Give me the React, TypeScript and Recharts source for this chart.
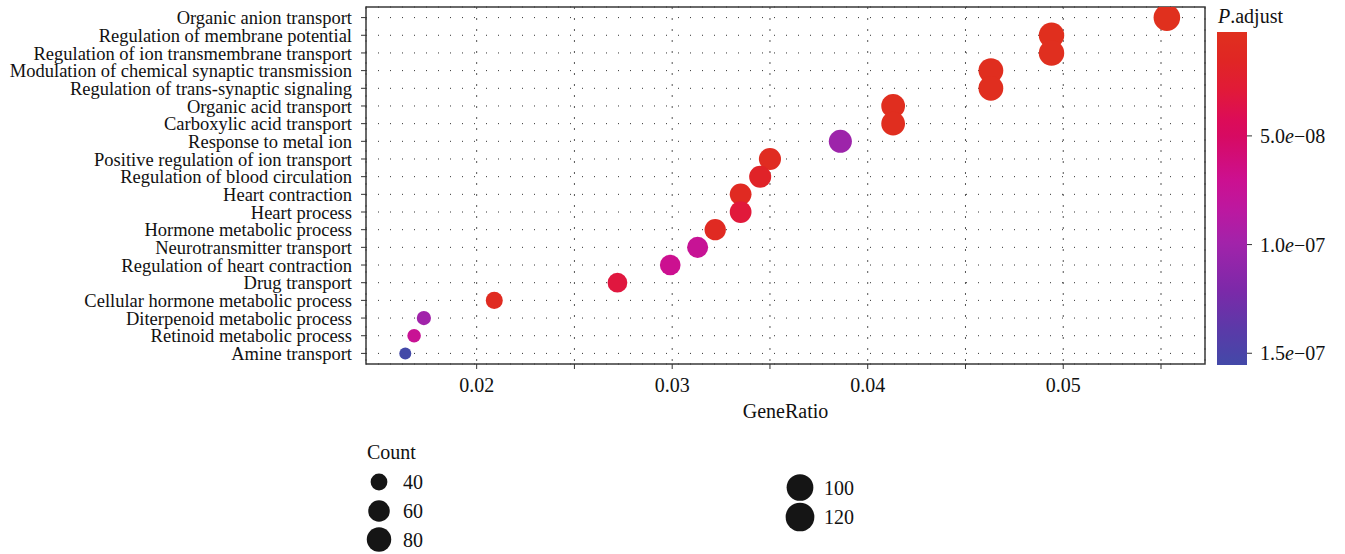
import React from "react";
import {
  ScatterChart,
  Scatter,
  XAxis,
  YAxis,
  CartesianGrid,
  ReferenceArea,
} from "recharts";

// GO terms, top to bottom
const terms = [
  "Organic anion transport",
  "Regulation of membrane potential",
  "Regulation of ion transmembrane transport",
  "Modulation of chemical synaptic transmission",
  "Regulation of trans-synaptic signaling",
  "Organic acid transport",
  "Carboxylic acid transport",
  "Response to metal ion",
  "Positive regulation of ion transport",
  "Regulation of blood circulation",
  "Heart contraction",
  "Heart process",
  "Hormone metabolic process",
  "Neurotransmitter transport",
  "Regulation of heart contraction",
  "Drug transport",
  "Cellular hormone metabolic process",
  "Diterpenoid metabolic process",
  "Retinoid metabolic process",
  "Amine transport",
];
const geneRatio = [
  0.0553, 0.0494, 0.0494, 0.0463, 0.0463, 0.0413, 0.0413, 0.0386, 0.035,
  0.0345, 0.0335, 0.0335, 0.0322, 0.0313, 0.0299, 0.0272, 0.0209, 0.0173,
  0.0168, 0.01635,
];
const counts = [
  120, 107, 107, 100, 100, 90, 90, 84, 76, 75, 73, 73, 70, 68, 65, 59, 45, 37,
  36, 35,
];
const padj = [
  2.2e-9, 3.0e-9, 3.5e-9, 4.5e-9, 4.5e-9, 5.0e-9, 5.0e-9, 1.02e-7, 8.0e-9,
  1.8e-8, 1.0e-8, 3.0e-8, 1.0e-8, 7.5e-8, 7.0e-8, 3.2e-8, 9.0e-9, 1.0e-7,
  7.4e-8, 1.554e-7,
];

const xTicks = [0.02, 0.025, 0.03, 0.035, 0.04, 0.045, 0.05, 0.055];
const xTickLabels = ["0.02", "", "0.03", "", "0.04", "", "0.05", ""];
const xDomain: [number, number] = [0.01434, 0.05725];

// colour scale for P.adjust
const padjStops = [
  2.2e-9, 1.51e-8, 2.89e-8, 4.26e-8, 5.0e-8, 7.02e-8, 8.42e-8, 9.93e-8,
  1.209e-7, 1.393e-7, 1.554e-7,
];
const padjColors = [
  "#e0301e", "#e02624", "#e11a38", "#dc0c58", "#d70a62", "#cc1090",
  "#bc18a0", "#a223aa", "#7c29a9", "#5a3aa8", "#4349a8",
];
const padjTicks = [5e-8, 1e-7, 1.5e-7];
const padjTickLabels = ["5.0e\u221208", "1.0e\u221207", "1.5e\u221207"];

const countBreaks = [40, 60, 80, 100, 120];

const FONT = "'Liberation Serif', 'Times New Roman', serif";
const INK = "#111";

const rows = terms.map((term, i) => ({
  term,
  row: i + 1,
  ratio: geneRatio[i],
  count: counts[i],
  padj: padj[i],
}));

const countMin = Math.min(...counts);
const countMax = Math.max(...counts);
function radiusFor(c: number) {
  const t = Math.max(0, (c - countMin) / (countMax - countMin));
  return 6 + 7.3 * Math.sqrt(t);
}

function hex(h: string) {
  return [1, 3, 5].map((k) => parseInt(h.slice(k, k + 2), 16));
}
function colorFor(p: number) {
  if (p <= padjStops[0]) return padjColors[0];
  for (let i = 0; i < padjStops.length - 1; i++) {
    const a = padjStops[i];
    const b = padjStops[i + 1];
    if (p <= b) {
      const t = (p - a) / (b - a);
      const ca = hex(padjColors[i]);
      const cb = hex(padjColors[i + 1]);
      const m = ca.map((v, k) => Math.round(v + (cb[k] - v) * t));
      return `rgb(${m[0]},${m[1]},${m[2]})`;
    }
  }
  return padjColors[padjColors.length - 1];
}

const Dot = (props: any) => {
  const { cx, cy, payload } = props;
  if (cx == null || cy == null) return null;
  return (
    <circle
      cx={cx}
      cy={cy}
      r={radiusFor(payload.count)}
      fill={colorFor(payload.padj)}
    />
  );
};

function Legends() {
  const barX = 1217;
  const barY = 32;
  const barW = 30;
  const barH = 333;
  const pLo = padjStops[0];
  const pHi = padjStops[padjStops.length - 1];
  const yOf = (p: number) => barY + ((p - pLo) / (pHi - pLo)) * barH;

  // size legend, laid out in two columns like the original
  const sizeItems = [
    { x: 379, y: 482 },
    { x: 379, y: 511 },
    { x: 379, y: 539.5 },
    { x: 800, y: 487.5 },
    { x: 800, y: 517 },
  ];

  return (
    <svg
      width={1345}
      height={554}
      style={{ position: "absolute", left: 0, top: 0, pointerEvents: "none" }}
      fontFamily={FONT}
    >
      <defs>
        <linearGradient id="padjGrad" x1="0" y1="0" x2="0" y2="1">
          {padjStops.map((p, i) => (
            <stop
              key={i}
              offset={(p - pLo) / (pHi - pLo)}
              stopColor={padjColors[i]}
            />
          ))}
        </linearGradient>
      </defs>
      <text x={1218} y={23} fontSize={20} fill={INK}>
        <tspan fontStyle="italic">P</tspan>.adjust
      </text>
      <rect x={barX} y={barY} width={barW} height={barH} fill="url(#padjGrad)" />
      {padjTicks.map((p, i) => {
        const [mant, exp] = padjTickLabels[i].split("e");
        return (
          <g key={i}>
            <line
              x1={barX + barW}
              x2={barX + barW + 5}
              y1={yOf(p)}
              y2={yOf(p)}
              stroke="#333"
              strokeWidth={1}
            />
            <text
              x={1260}
              y={yOf(p)}
              dominantBaseline="central"
              fontSize={20}
              fill={INK}
            >
              {mant}
              <tspan fontStyle="italic">e</tspan>
              {exp}
            </text>
          </g>
        );
      })}

      <text x={367} y={459} fontSize={20} fill={INK}>
        Count
      </text>
      {countBreaks.map((c, i) => (
        <g key={c}>
          <circle
            cx={sizeItems[i].x}
            cy={sizeItems[i].y}
            r={radiusFor(c) * 1.08}
            fill="#151515"
          />
          <text
            x={sizeItems[i].x + 24}
            y={sizeItems[i].y}
            dominantBaseline="central"
            fontSize={20}
            fill={INK}
          >
            {c}
          </text>
        </g>
      ))}
    </svg>
  );
}

export default function App() {
  return (
    <div
      style={{
        position: "absolute",
        left: 0,
        top: 0,
        width: 1345,
        height: 554,
        background: "#fff",
      }}
    >
      <ScatterChart
        width={1345}
        height={554}
        margin={{ top: 7, right: 140, bottom: 130, left: 0 }}
      >
        <CartesianGrid
          vertical={false}
          stroke="#333"
          strokeWidth={1}
          strokeDasharray="1 11"
        />
        <CartesianGrid
          horizontal={false}
          stroke="#555"
          strokeWidth={1}
          strokeDasharray="2 9"
        />
        <XAxis
          type="number"
          dataKey="ratio"
          domain={xDomain}
          allowDataOverflow
          ticks={xTicks}
          interval={0}
          height={60}
          tickFormatter={(v: number) => xTickLabels[xTicks.indexOf(v)] ?? ""}
          axisLine={false}
          tickSize={5}
          tickMargin={9}
          tickLine={{ stroke: "#333" }}
          tick={{ fontSize: 20, fill: INK, fontFamily: FONT }}
          label={{
            value: "GeneRatio",
            position: "insideBottom",
            offset: 6,
            fontSize: 20,
            fill: INK,
            fontFamily: FONT,
          }}
        />
        <YAxis
          type="number"
          dataKey="row"
          domain={[0.4, 20.6]}
          allowDataOverflow
          reversed
          ticks={terms.map((_, i) => i + 1)}
          interval={0}
          width={366}
          tickFormatter={(v: number) => terms[v - 1] ?? ""}
          axisLine={false}
          tickSize={5}
          tickMargin={9}
          tickLine={{ stroke: "#333" }}
          tick={{ fontSize: 18.5, fill: INK, fontFamily: FONT }}
        />
        <ReferenceArea
          x1={xDomain[0]}
          x2={xDomain[1]}
          y1={0.4}
          y2={20.6}
          fill="none"
          stroke="#3a3a3a"
          strokeWidth={1.5}
          ifOverflow="visible"
        />
        <Scatter data={rows} shape={Dot} isAnimationActive={false} />
      </ScatterChart>
      <Legends />
    </div>
  );
}
